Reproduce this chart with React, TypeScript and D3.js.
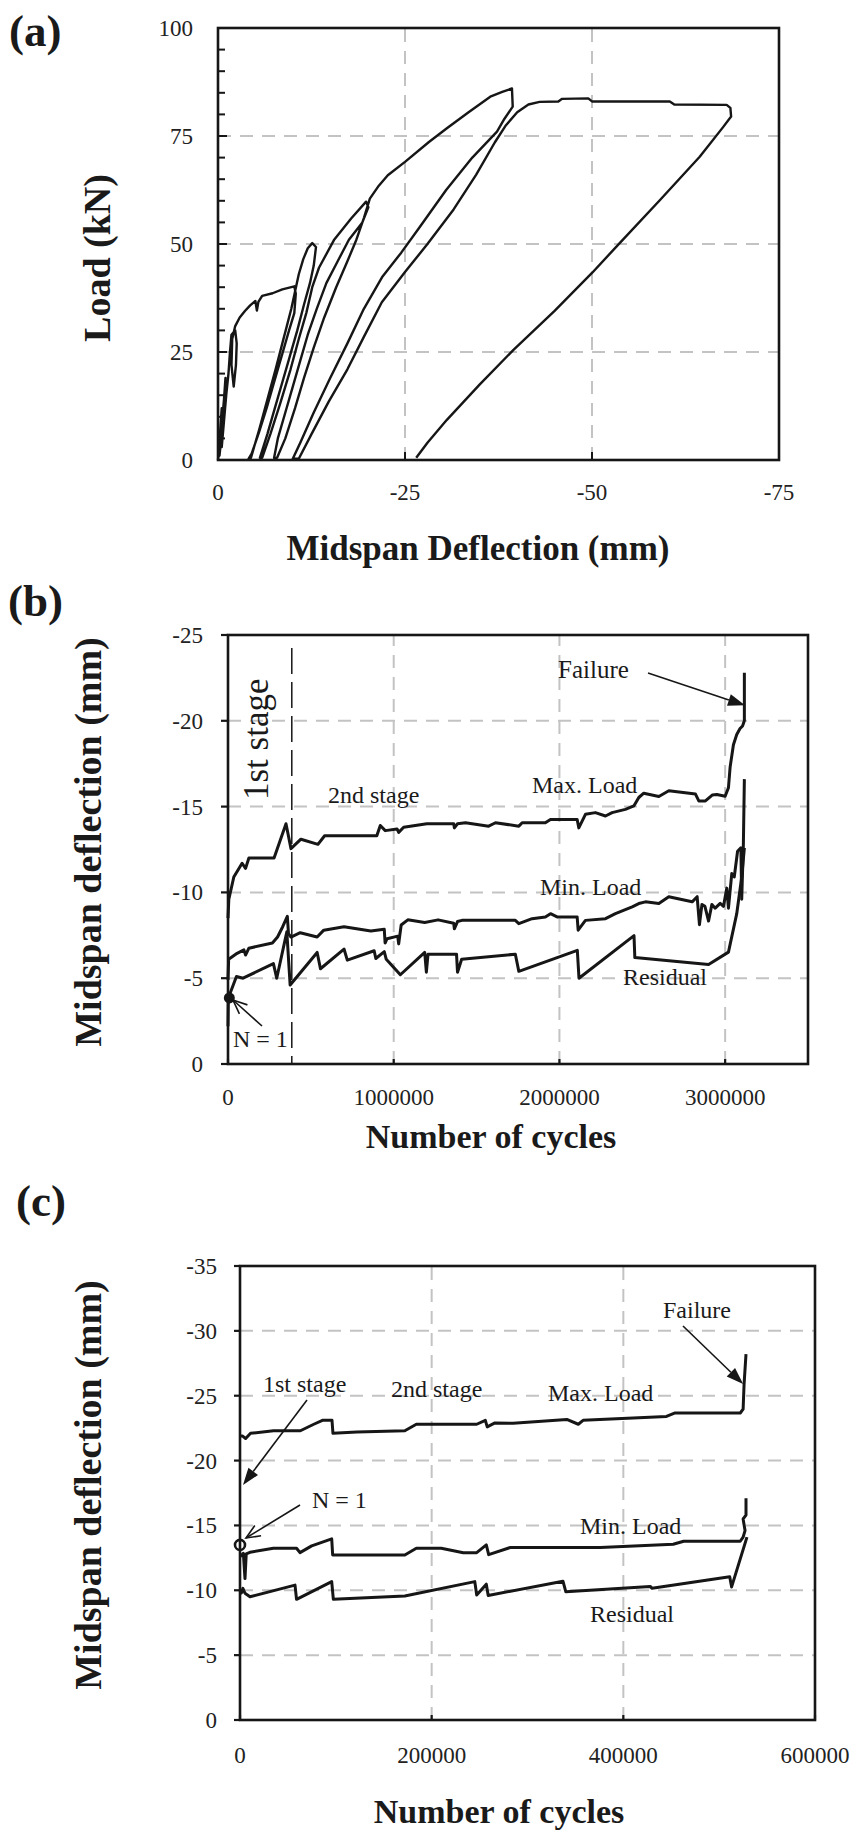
import React from "react";
import * as d3 from "d3";

const SERIF = "'Liberation Serif','Times New Roman',Times,serif";
const GRID = "#c3c3c3";
const INK = "#161616";

// ---------- Panel (a): load vs midspan deflection ----------
const aYTicks = [0, 25, 50, 75, 100];
const aYMinor = [5, 10, 15, 20, 30, 35, 40, 45, 55, 60, 65, 70, 80, 85, 90, 95];
const aXTicks = [0, -25, -50, -75];
const aXGrid = [-25, -50];
const aYGrid = [25, 50, 75];
// [deflection (mm), load (kN)]
const aInitial = [[0,0],[-0.2,4],[-0.4,9],[-0.5,12],[-0.3,7],[-0.2,1],[-0.5,6],[-0.7,12],[-0.9,16],[-1.0,19],[-0.8,14],[-0.6,8],[-0.5,3],[-0.8,9],[-1.1,15],[-1.4,20],[-1.6,25],[-1.8,29],[-2.3,30],[-2.5,27],[-2.4,22],[-2.1,17],[-1.8,22],[-1.9,28],[-2.3,31],[-2.9,33],[-3.6,34.5],[-4.3,35.8],[-5.0,36.8],[-5.2,34.6],[-5.4,36.6],[-5.9,38],[-7.3,38.6],[-8.6,39.5],[-10.2,40.2]];
const aUnload40 = [[-10.4,38.5],[-10.2,34],[-9.5,30],[-8.5,24],[-7.5,18],[-6.5,12],[-5.5,6.5],[-4.5,1.5],[-4.1,0.3]];
const aReload50 = [[-4.4,0.5],[-5.5,7],[-6.6,14],[-7.7,21],[-8.6,27],[-9.2,31],[-9.8,35],[-10.3,39],[-10.8,43],[-11.4,46.5],[-12,49],[-12.6,50.2],[-13.1,49.3]];
const aUnload50 = [[-12.8,45],[-12.3,41],[-11.5,36],[-10.6,30],[-9.6,24],[-8.6,18],[-7.6,12],[-6.6,6],[-5.6,0.5]];
const aReload60 = [[-5.9,0.5],[-7,6],[-8.3,13],[-9.7,21],[-10.8,28],[-11.8,34],[-12.6,40],[-13.5,44.5],[-15.5,50.9],[-17.8,55.9],[-19.8,59.8],[-20.1,58.5]];
const aUnload60 = [[-19.3,55],[-17.5,51],[-16,46],[-14.5,41],[-13.2,35],[-12,29],[-11,23],[-10,17],[-9,11],[-8,5],[-7.5,0.5]];
const aReload86 = [[-7.9,0.5],[-9,5],[-10.3,12],[-11.5,19],[-12.8,26],[-14.2,33],[-15.8,40],[-17.3,46],[-18.5,51],[-19.5,56],[-20.3,60.5],[-21.5,63.5],[-22.7,65.9],[-25,69],[-28.2,73.6],[-30.6,76.8],[-33.5,80.5],[-36.4,84.1],[-38,85.2],[-39.3,86]];
const aUnload86 = [[-39.4,81.8],[-38.3,79],[-37.3,76],[-34,70],[-30.5,62.5],[-27,54],[-24.5,48],[-22,42.5],[-19.5,35],[-17.3,27],[-15,19],[-12.8,11],[-11,4],[-10,0.3]];
const aFinal = [[-10.8,0.3],[-12.5,6],[-14.8,13.5],[-17.3,21],[-19.5,28.5],[-21.9,36.5],[-25,43.5],[-28,50],[-31.5,58],[-34.5,66],[-37,73.5],[-38.5,77.5],[-40,80.5],[-41.5,82.3],[-43,82.9],[-45.5,83],[-46,83.6],[-49.5,83.7],[-50,83],[-60.4,83],[-61,82.3],[-68,82.2],[-68.5,81.5],[-68.6,79.5],[-67.5,77],[-64.4,70.2],[-59,60],[-53.7,50.2],[-50,43.3],[-45,34.5],[-39.5,25.5],[-35,17.5],[-30.6,9.3],[-28,4],[-26.5,0.5]];
const aCurve = [...aInitial, ...aUnload40, ...aReload50, ...aUnload50, ...aReload60, ...aUnload60, ...aReload86, ...aUnload86, ...aFinal];

// ---------- Panel (b): deflection vs cycles ----------
const bYTicks = [0, -5, -10, -15, -20, -25];
const bXTicks = [0, 1000000, 2000000, 3000000];
const bXTickLabels = ["0", "1000000", "2000000", "3000000"];
const bXGrid = [1000000, 2000000, 3000000];
const bYGrid = [-5, -10, -15, -20];
const bStage1 = 385000;
// [cycles, midspan deflection (mm)]
const bMaxLoad = [[0,-8.5],[5000,-9.6],[35000,-10.9],[85000,-11.7],[106000,-11.4],[126000,-12.0],[278000,-12.0],[350000,-14.0],[380000,-12.55],[440000,-13.1],[543000,-12.8],[583000,-13.3],[726000,-13.3],[898000,-13.3],[919000,-13.9],[949000,-13.6],[1020000,-13.7],[1030000,-13.5],[1060000,-13.8],[1200000,-14.0],[1362000,-14.0],[1366000,-13.76],[1385000,-14.0],[1433000,-14.06],[1573000,-13.86],[1614000,-14.06],[1755000,-13.86],[1775000,-14.06],[1915000,-14.06],[1946000,-14.25],[2107000,-14.25],[2117000,-13.76],[2157000,-14.55],[2217000,-14.65],[2278000,-14.45],[2318000,-14.65],[2398000,-14.84],[2449000,-15.04],[2479000,-15.53],[2509000,-15.78],[2600000,-15.59],[2660000,-15.92],[2821000,-15.73],[2841000,-15.33],[2881000,-15.33],[2922000,-15.67],[2950000,-15.7],[3000000,-15.6],[3020000,-16.1],[3030000,-17.3],[3050000,-18.6],[3070000,-19.2],[3090000,-19.55],[3105000,-19.7],[3116000,-20.0],[3116000,-22.8]];
const bMinLoad = [[0,-4.9],[4000,-6.1],[55000,-6.45],[96000,-6.65],[106000,-6.35],[126000,-6.75],[268000,-7.05],[299000,-7.4],[330000,-8.0],[358000,-8.6],[365000,-7.6],[380000,-7.4],[436000,-7.65],[538000,-7.4],[578000,-7.8],[700000,-8.0],[862000,-7.75],[943000,-7.85],[948000,-7.05],[960000,-7.3],[1024000,-7.45],[1030000,-7.0],[1045000,-8.1],[1085000,-8.4],[1187000,-8.25],[1268000,-8.4],[1362000,-8.2],[1366000,-7.88],[1385000,-8.3],[1412000,-8.37],[1734000,-8.37],[1755000,-8.18],[1835000,-8.47],[1915000,-8.57],[1946000,-8.76],[1986000,-8.57],[2107000,-8.57],[2113000,-7.8],[2157000,-8.37],[2278000,-8.47],[2338000,-8.76],[2439000,-9.16],[2479000,-9.35],[2519000,-9.45],[2600000,-9.35],[2660000,-9.75],[2801000,-9.45],[2831000,-9.75],[2845000,-8.12],[2860000,-9.3],[2878000,-9.19],[2900000,-8.33],[2920000,-9.3],[2940000,-9.08],[2970000,-9.36],[2990000,-9.19],[3010000,-10.25],[3020000,-9.08],[3040000,-11.1],[3055000,-10.9],[3075000,-12.4],[3095000,-12.6],[3100000,-9.6],[3110000,-12.8],[3116000,-16.6]];
const bResidual = [[0,-2.2],[2000,-3.85],[51000,-5.1],[91000,-5.0],[274000,-5.85],[294000,-5.0],[355000,-7.7],[375000,-4.6],[538000,-6.5],[558000,-5.55],[700000,-6.7],[720000,-6.05],[882000,-6.6],[892000,-6.15],[943000,-6.55],[955000,-6.1],[1040000,-5.2],[1187000,-6.5],[1197000,-5.35],[1207000,-6.4],[1379000,-6.4],[1385000,-5.35],[1410000,-6.1],[1734000,-6.4],[1755000,-5.4],[2108000,-6.62],[2118000,-5.0],[2450000,-7.48],[2455000,-6.2],[2900000,-5.8],[3020000,-6.52],[3070000,-8.76],[3100000,-10.9],[3116000,-12.6]];
const bFirstCycle = [8000, -3.85];

// ---------- Panel (c): deflection vs cycles ----------
const cYTicks = [0, -5, -10, -15, -20, -25, -30, -35];
const cXTicks = [0, 200000, 400000, 600000];
const cXTickLabels = ["0", "200000", "400000", "600000"];
const cXGrid = [200000, 400000];
const cYGrid = [-5, -10, -15, -20, -25, -30];
const cMaxLoad = [[0,-21.9],[2400,-21.9],[5900,-21.7],[11000,-22.1],[35000,-22.3],[63000,-22.3],[77000,-22.8],[86000,-23.1],[96000,-23.1],[97000,-22.1],[122000,-22.2],[172000,-22.3],[184000,-22.8],[247000,-22.8],[256000,-23.1],[258000,-22.6],[266000,-22.9],[285000,-22.87],[341000,-23.17],[353000,-22.8],[358000,-23.1],[445000,-23.4],[454000,-23.67],[522000,-23.67],[525000,-23.96],[526000,-25.9],[528000,-28.2]];
const cMinLoad = [[500,-12.6],[3500,-12.85],[5200,-10.9],[6500,-12.8],[10400,-12.93],[34800,-13.24],[59000,-13.24],[62600,-12.9],[74800,-13.42],[95700,-13.96],[96700,-12.72],[172000,-12.72],[184000,-13.24],[210000,-13.24],[233000,-12.9],[247000,-12.9],[257000,-13.5],[259500,-12.75],[282000,-13.3],[376000,-13.3],[452000,-13.55],[463000,-13.78],[522000,-13.78],[525000,-14.1],[527000,-14.6],[525000,-15.5],[528000,-15.8],[528000,-17.1]];
const cResidual = [[0,-10.0],[1500,-9.8],[3000,-10.15],[5200,-9.77],[10400,-9.5],[57400,-10.4],[59000,-9.3],[95700,-10.67],[97400,-9.3],[172000,-9.56],[245000,-10.67],[247000,-9.64],[257000,-10.47],[259000,-9.6],[337000,-10.7],[340000,-9.88],[428000,-10.3],[430000,-10.15],[511000,-11.05],[513000,-10.26],[529000,-14.1]];
const cFirstCycle = [0, -13.5];

// ---------- scales ----------
const ax = d3.scaleLinear().domain([0, -75]).range([218, 779]);
const ay = d3.scaleLinear().domain([0, 100]).range([460, 28]);
const bx = d3.scaleLinear().domain([0, 3500000]).range([228, 808]);
const by = d3.scaleLinear().domain([0, -25]).range([1064, 635]);
const cx = d3.scaleLinear().domain([0, 600000]).range([240, 815]);
const cy = d3.scaleLinear().domain([0, -35]).range([1720, 1266]);

function lineFor(x: any, y: any) {
  return d3.line<number[]>().x((d) => x(d[0])).y((d) => y(d[1]));
}

function head(x1: number, y1: number, x2: number, y2: number, len: number, hw: number) {
  const a = Math.atan2(y2 - y1, x2 - x1);
  const bxp = x2 - len * Math.cos(a), byp = y2 - len * Math.sin(a);
  const px = -Math.sin(a) * hw, py = Math.cos(a) * hw;
  return { base: [bxp, byp], pts: [[bxp + px, byp + py], [x2, y2], [bxp - px, byp - py]] };
}

function FilledArrow({ x1, y1, x2, y2 }: any) {
  const h = head(x1, y1, x2, y2, 17, 6);
  return (
    <g>
      <line x1={x1} y1={y1} x2={h.base[0]} y2={h.base[1]} stroke={INK} strokeWidth={1.6} />
      <polygon points={h.pts.map((p) => p.join(",")).join(" ")} fill={INK} />
    </g>
  );
}

function OpenArrow({ x1, y1, x2, y2 }: any) {
  const h = head(x1, y1, x2, y2, 14, 6);
  return (
    <g fill="none" stroke={INK} strokeWidth={1.6}>
      <line x1={x1} y1={y1} x2={x2} y2={y2} />
      <polyline points={h.pts.map((p) => p.join(",")).join(" ")} />
    </g>
  );
}

function Grid({ x, y, xs, ys }: any) {
  const [x0, x1] = x.range();
  const [y0, y1] = y.range();
  return (
    <g stroke={GRID} strokeWidth={2} strokeDasharray="13,9">
      {ys.map((v: number) => (
        <line key={"h" + v} x1={x0} x2={x1} y1={y(v)} y2={y(v)} />
      ))}
      {xs.map((v: number) => (
        <line key={"v" + v} x1={x(v)} x2={x(v)} y1={y0} y2={y1} />
      ))}
    </g>
  );
}

function Frame({ x, y }: any) {
  const [x0, x1] = x.range();
  const [y0, y1] = y.range();
  return <rect x={x0} y={y1} width={x1 - x0} height={y0 - y1} fill="none" stroke={INK} strokeWidth={2.6} />;
}

export default function App() {
  const la = lineFor(ax, ay);
  const lb = lineFor(bx, by);
  const lc = lineFor(cx, cy);
  const tick = { fontFamily: SERIF, fontSize: 23, fill: "#222" } as any;
  const ann = { fontFamily: SERIF, fontSize: 24, fill: "#1a1a1a" } as any;
  const title = { fontFamily: SERIF, fontWeight: "bold", fill: "#1a1a1a" } as any;

  return (
    <svg width={854} height={1838} style={{ position: "absolute", left: 0, top: 0, background: "#fff" }}>
      <rect x={0} y={0} width={854} height={1838} fill="#fff" />

      {/* ===== (a) ===== */}
      <text x={9} y={46} {...title} fontSize={45}>(a)</text>
      <Grid x={ax} y={ay} xs={aXGrid} ys={aYGrid} />
      <path d={la(aCurve as any) as string} fill="none" stroke={INK} strokeWidth={2.4} strokeLinejoin="round" />
      <g stroke={INK} strokeWidth={2}>
        {aYMinor.map((v) => (
          <line key={v} x1={ax(0)} x2={ax(0) + 7} y1={ay(v)} y2={ay(v)} />
        ))}
        {aYTicks.map((v) => (
          <line key={"m" + v} x1={ax(0)} x2={ax(0) + 9} y1={ay(v)} y2={ay(v)} />
        ))}
        {aXTicks.map((v) => (
          <line key={"x" + v} x1={ax(v)} x2={ax(v)} y1={ay(0)} y2={ay(0) - 8} />
        ))}
      </g>
      <Frame x={ax} y={ay} />
      {aYTicks.map((v) => (
        <text key={v} x={193} y={ay(v) + 8} textAnchor="end" {...tick}>{v}</text>
      ))}
      {aXTicks.map((v) => (
        <text key={v} x={ax(v)} y={500} textAnchor="middle" {...tick}>{v}</text>
      ))}
      <text x={478} y={560} textAnchor="middle" {...title} fontSize={35}>Midspan Deflection (mm)</text>
      <text transform="translate(110,258) rotate(-90)" textAnchor="middle" {...title} fontSize={38}>Load (kN)</text>

      {/* ===== (b) ===== */}
      <text x={8} y={616} {...title} fontSize={45}>(b)</text>
      <Grid x={bx} y={by} xs={bXGrid} ys={bYGrid} />
      <line x1={bx(bStage1)} x2={bx(bStage1)} y1={648} y2={by(0)} stroke={INK} strokeWidth={1.5} strokeDasharray="26,8" />
      <g fill="none" stroke={INK} strokeWidth={3} strokeLinejoin="round">
        <path d={lb(bMaxLoad as any) as string} />
        <path d={lb(bMinLoad as any) as string} />
        <path d={lb(bResidual as any) as string} />
      </g>
      <circle cx={bx(bFirstCycle[0])} cy={by(bFirstCycle[1])} r={5.5} fill={INK} />
      <g stroke={INK} strokeWidth={2.2}>
        {bYTicks.map((v) => (
          <line key={v} x1={bx(0) - 7} x2={bx(0)} y1={by(v)} y2={by(v)} />
        ))}
        {bXTicks.map((v) => (
          <line key={"x" + v} x1={bx(v)} x2={bx(v)} y1={by(0)} y2={by(0) - 5} />
        ))}
      </g>
      <Frame x={bx} y={by} />
      {bYTicks.map((v) => (
        <text key={v} x={203} y={by(v) + 8} textAnchor="end" {...tick}>{v}</text>
      ))}
      {bXTicks.map((v, i) => (
        <text key={v} x={bx(v)} y={1105} textAnchor="middle" {...tick}>{bXTickLabels[i]}</text>
      ))}
      <text x={491} y={1148} textAnchor="middle" {...title} fontSize={34}>Number of cycles</text>
      <text transform="translate(101,842) rotate(-90)" textAnchor="middle" {...title} fontSize={38}>Midspan deflection (mm)</text>
      <text transform="translate(268,800) rotate(-90)" {...ann} fontSize={35}>1st stage</text>
      <text x={328} y={803} {...ann}>2nd stage</text>
      <text x={532} y={793} {...ann}>Max. Load</text>
      <text x={540} y={895} {...ann}>Min. Load</text>
      <text x={623} y={985} {...ann}>Residual</text>
      <text x={558} y={678} {...ann} fontSize={25}>Failure</text>
      <FilledArrow x1={648} y1={673} x2={bx(3120000)} y2={by(-20.9)} />
      <text x={233} y={1047} {...ann}>N = 1</text>
      <OpenArrow x1={262} y1={1026} x2={233} y2={1000} />

      {/* ===== (c) ===== */}
      <text x={16} y={1216} {...title} fontSize={45}>(c)</text>
      <Grid x={cx} y={cy} xs={cXGrid} ys={cYGrid} />
      <g fill="none" stroke={INK} strokeWidth={3} strokeLinejoin="round">
        <path d={lc(cMaxLoad as any) as string} />
        <path d={lc(cMinLoad as any) as string} />
        <path d={lc(cResidual as any) as string} />
      </g>
      <circle cx={cx(cFirstCycle[0])} cy={cy(cFirstCycle[1])} r={5} fill="#fff" stroke={INK} strokeWidth={2.6} />
      <g stroke={INK} strokeWidth={2.2}>
        {cYTicks.map((v) => (
          <line key={v} x1={cx(0) - 6} x2={cx(0)} y1={cy(v)} y2={cy(v)} />
        ))}
        {cXTicks.map((v) => (
          <line key={"x" + v} x1={cx(v)} x2={cx(v)} y1={cy(0)} y2={cy(0) - 5} />
        ))}
      </g>
      <Frame x={cx} y={cy} />
      {cYTicks.map((v) => (
        <text key={v} x={217} y={cy(v) + 8} textAnchor="end" {...tick}>{v}</text>
      ))}
      {cXTicks.map((v, i) => (
        <text key={v} x={cx(v)} y={1763} textAnchor="middle" {...tick}>{cXTickLabels[i]}</text>
      ))}
      <text x={499} y={1823} textAnchor="middle" {...title} fontSize={34}>Number of cycles</text>
      <text transform="translate(101,1485) rotate(-90)" textAnchor="middle" {...title} fontSize={38}>Midspan deflection (mm)</text>
      <text x={263} y={1392} {...ann}>1st stage</text>
      <FilledArrow x1={307} y1={1400} x2={243} y2={1485} />
      <text x={391} y={1397} {...ann}>2nd stage</text>
      <text x={548} y={1401} {...ann}>Max. Load</text>
      <text x={663} y={1318} {...ann}>Failure</text>
      <FilledArrow x1={683} y1={1326} x2={cx(525000)} y2={cy(-25.9)} />
      <text x={580} y={1534} {...ann}>Min. Load</text>
      <text x={590} y={1622} {...ann}>Residual</text>
      <text x={312} y={1508} {...ann}>N = 1</text>
      <OpenArrow x1={300} y1={1505} x2={246} y2={1538} />
    </svg>
  );
}
